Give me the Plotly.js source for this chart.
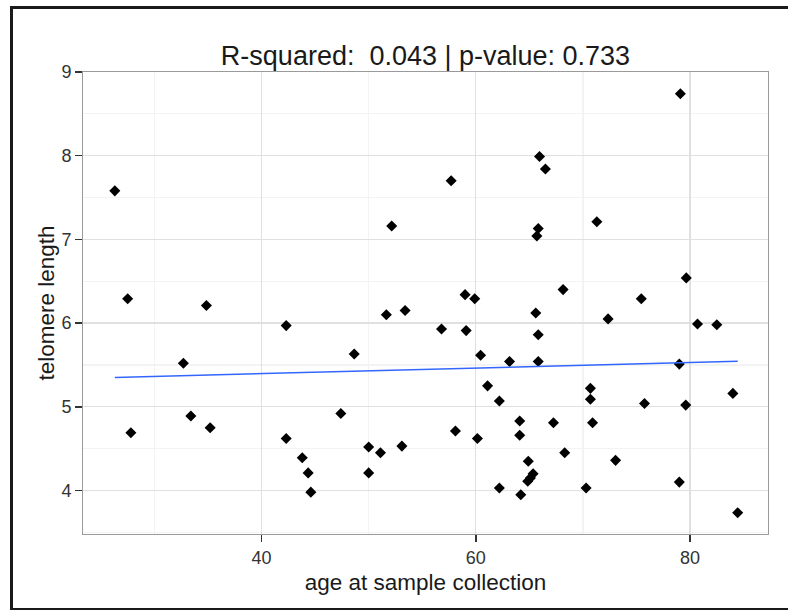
<!DOCTYPE html>
<html>
<head>
<meta charset="utf-8">
<script src="https://cdn.plot.ly/plotly-3.0.1.min.js"></script>
<style>
  html, body { margin: 0; padding: 0; background: #fff; overflow: hidden; }
  #wrap { position: relative; width: 788px; height: 610px; overflow: hidden; }
  #chart { width: 788px; height: 610px; }
  #frame { position: absolute; left: 10px; top: 6px; width: 790px; height: 599px;
           border-left: 3px solid #1a1a1a; border-top: 3px solid #1a1a1a; border-bottom: 3px solid #1a1a1a;
           pointer-events: none; }
</style>
</head>
<body>
<div id="wrap">
  <div id="chart"></div>
  <div id="frame"></div>
</div>
<script>
const age = [26.3, 27.5, 27.8, 32.7, 33.4, 34.85, 35.2, 42.3, 42.3, 43.8,
             44.35, 44.6, 47.4, 48.65, 50.0, 50.0, 51.1, 51.65, 52.15, 53.1,
             53.4, 56.8, 57.7, 58.1, 59.0, 59.1, 59.9, 60.15, 60.45, 61.1,
             62.2, 62.2, 63.15, 64.1, 64.1, 64.2, 64.9, 64.85, 65.1, 65.35,
             65.6, 65.7, 65.83, 65.83, 65.83, 65.95, 66.5, 67.25, 68.15, 68.3,
             70.3, 70.7, 70.7, 70.9, 71.3, 72.35, 73.05, 75.45, 75.75, 79.0,
             79.0, 79.1, 79.6, 79.65, 80.7, 82.5, 84.0, 84.45];
const telomere = [7.58, 6.29, 4.69, 5.52, 4.89, 6.21, 4.75, 5.97, 4.62, 4.39,
                  4.21, 3.98, 4.92, 5.63, 4.52, 4.21, 4.45, 6.10, 7.16, 4.53,
                  6.15, 5.93, 7.70, 4.71, 6.34, 5.91, 6.29, 4.62, 5.615, 5.25,
                  5.07, 4.03, 5.54, 4.83, 4.66, 3.95, 4.35, 4.11, 4.15, 4.20,
                  6.12, 7.04, 7.13, 5.86, 5.54, 7.99, 7.84, 4.81, 6.40, 4.45,
                  4.03, 5.22, 5.09, 4.81, 7.21, 6.05, 4.36, 6.29, 5.04, 5.51,
                  4.10, 8.74, 5.02, 6.54, 5.99, 5.98, 5.16, 3.735];
const fitX = [26.3, 84.45];
const fitY = [5.35, 5.545];
const titleText = "R-squared:  0.043 | p-value: 0.733";
const xTitle = "age at sample collection";
const yTitle = "telomere length";
const xTicks = [40, 60, 80];
const yTicks = [4, 5, 6, 7, 8, 9];

const font = "Liberation Sans, Arial, Helvetica, sans-serif";

const traces = [
  { x: age, y: telomere, type: "scatter", mode: "markers",
    marker: { symbol: "diamond", size: 8.5, color: "#000000" }, hoverinfo: "x+y" },
  { x: fitX, y: fitY, type: "scatter", mode: "lines",
    line: { color: "#3366FF", width: 1.5 }, hoverinfo: "skip" }
];

const axisCommon = {
  showline: true, mirror: true, linecolor: "#9a9a9a", linewidth: 1,
  showgrid: true, gridcolor: "#e0e0e0", gridwidth: 1.3,
  zeroline: false, ticks: "outside", ticklen: 7, tickwidth: 1.5, tickcolor: "#333333",
  tickfont: { family: font, size: 18, color: "#333333" }
};

const layout = {
  width: 788, height: 610,
  margin: { l: 83, r: 20, t: 72, b: 76 },
  paper_bgcolor: "#ffffff", plot_bgcolor: "#ffffff",
  showlegend: false,
  title: { text: titleText, x: 0.5, xref: "paper", y: 1 - 56 / 610, yref: "container", yanchor: "middle",
           font: { family: font, size: 27, color: "#1a1a1a" } },
  xaxis: Object.assign({}, axisCommon, {
    range: [23.33, 87.28], tickvals: xTicks, ticktext: xTicks.map(String),
    minor: { dtick: 10, tick0: 0, showgrid: true, gridcolor: "#f3f3f3", gridwidth: 1.2, ticks: "" },
    title: { text: xTitle, standoff: 7, font: { family: font, size: 22.5, color: "#1a1a1a" } }
  }),
  yaxis: Object.assign({}, axisCommon, {
    range: [3.48, 9.0], tickvals: yTicks, ticktext: yTicks.map(String),
    minor: { dtick: 0.5, tick0: 0, showgrid: true, gridcolor: "#f3f3f3", gridwidth: 1.2, ticks: "" },
    title: { text: yTitle, standoff: 0, font: { family: font, size: 22.5, color: "#1a1a1a" } }
  })
};

Plotly.newPlot("chart", traces, layout, { staticPlot: true, displayModeBar: false });
</script>
</body>
</html>
